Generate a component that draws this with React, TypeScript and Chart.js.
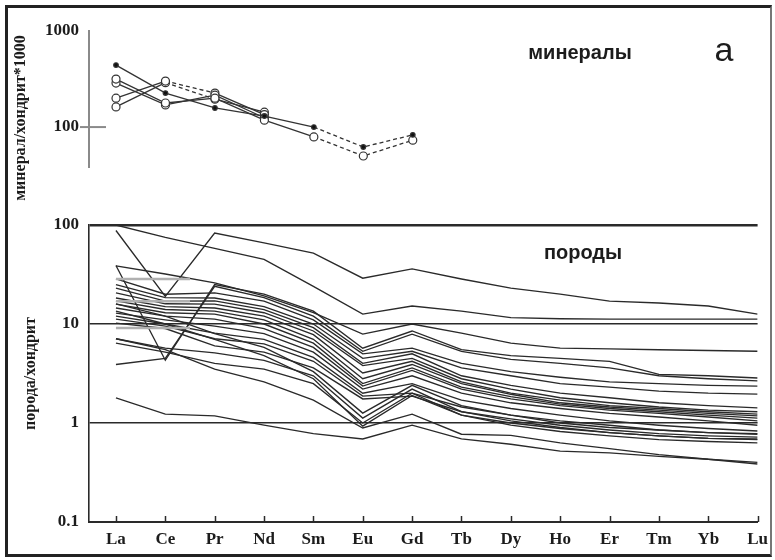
import React, { useEffect, useRef } from 'react';
import { Chart, registerables } from 'chart.js';
Chart.register(...registerables);

// ---- categories & ticks ----
const elements = ['La', 'Ce', 'Pr', 'Nd', 'Sm', 'Eu', 'Gd', 'Tb', 'Dy', 'Ho', 'Er', 'Tm', 'Yb', 'Lu'];
const rockTicks = [0.1, 1, 10, 100];
const rockTickLabels = ['0.1', '1', '10', '100'];
const mineralTicks = [100, 1000];
const mineralTickLabels = ['100', '1000'];

// ---- rocks (порода/хондрит), La..Lu ----
const r01 = [100, 75, 58, 45, 24, 12.6, 15.2, 13.5, 11.6, 11.3, 11.2, 11.2, 11.2, 11.2];
const r02 = [88, 19, 83, 66, 52, 29, 36, 28.5, 23, 20, 17, 16.3, 15.2, 12.6];
const r03 = [38.6, 32, 26, 19.2, 13, 7.9, 10, 8.1, 6.4, 5.7, 5.6, 5.5, 5.4, 5.3];
const r04 = [39, 4.3, 25, 20, 13.5, 5.7, 8.5, 5.5, 4.8, 4.5, 4.2, 3.1, 3.0, 2.85];
const r05 = [3.9, 4.5, 24, 18.5, 12, 5.3, 7.9, 5.3, 4.4, 4.0, 3.6, 3.0, 2.8, 2.66];
const r06 = [28.5, 20, 20.6, 17, 11, 5.0, 5.7, 4.0, 3.3, 2.9, 2.6, 2.5, 2.4, 2.36];
const r07 = [25, 18.5, 18.3, 15, 10, 4.5, 5.3, 3.6, 3.0, 2.5, 2.3, 2.1, 2.0, 1.96];
const r08 = [23, 17, 17.1, 14, 9.2, 4.0, 5.0, 3.0, 2.4, 2.0, 1.8, 1.6, 1.5, 1.42];
const r09 = [20.6, 16, 15.9, 13, 8.5, 3.8, 4.5, 2.8, 2.2, 1.8, 1.6, 1.45, 1.35, 1.3];
const r10 = [18.3, 15, 14.5, 12, 7.8, 3.2, 4.2, 2.6, 2.0, 1.7, 1.5, 1.4, 1.3, 1.23];
const r11 = [17.1, 14, 13.5, 11, 7.0, 2.8, 3.9, 2.5, 1.95, 1.6, 1.45, 1.35, 1.25, 1.18];
const r12 = [15.9, 13, 12.6, 10, 6.4, 2.5, 3.6, 2.3, 1.85, 1.55, 1.4, 1.3, 1.2, 1.12];
const r13 = [14.5, 12, 11.2, 9, 5.8, 2.36, 3.4, 2.2, 1.75, 1.5, 1.35, 1.25, 1.15, 1.05];
const r14 = [12.9, 11, 9.5, 8, 5.2, 2.2, 3.0, 2.0, 1.6, 1.4, 1.25, 1.15, 1.05, 0.95];
const r15 = [12.0, 10, 8.1, 7, 4.6, 2.0, 2.5, 1.7, 1.4, 1.2, 1.05, 0.95, 0.88, 0.83];
const r16 = [11.2, 9.5, 7.1, 6.3, 4.2, 1.87, 2.0, 1.45, 1.2, 1.05, 0.95, 0.85, 0.8, 0.77];
const r17 = [10.2, 9, 6.0, 5.2, 3.6, 1.75, 1.87, 1.3, 1.1, 0.95, 0.85, 0.78, 0.74, 0.72];
const r18 = [7.1, 5.7, 5.1, 4.3, 3.0, 1.12, 2.2, 1.3, 1.05, 0.9, 0.8, 0.74, 0.7, 0.69];
const r19 = [6.4, 5.2, 4.0, 3.5, 2.5, 1.0, 2.0, 1.2, 0.95, 0.82, 0.74, 0.68, 0.65, 0.63];
const r20 = [16, 12, 8, 5.8, 3.3, 1.26, 2.4, 1.5, 1.2, 1.0, 0.9, 0.85, 0.8, 0.78];
const r21 = [13.5, 10, 7.0, 4.8, 2.8, 0.93, 1.9, 1.2, 1.0, 0.88, 0.8, 0.74, 0.7, 0.68];
const r22 = [7.1, 5.5, 3.5, 2.6, 1.7, 0.89, 1.23, 0.77, 0.75, 0.63, 0.55, 0.48, 0.43, 0.4];
const r23 = [1.79, 1.23, 1.18, 0.95, 0.78, 0.69, 0.95, 0.69, 0.61, 0.52, 0.5, 0.46, 0.43, 0.385];
const rockSeries = [r01, r02, r03, r04, r05, r06, r07, r08, r09, r10, r11, r12, r13, r14, r15, r16, r17, r18, r19, r20, r21, r22, r23];

// faint grey traces in the La–Ce interval
const greyTraceLevels = [28.5, 17, 9.1];
const greyTraceStart = 0;
const greyTraceEnd = 1.5;

// ---- minerals (минерал/хондрит*1000), La..Gd ----
const m1 = [442, 226, 158, 130, 100, 62, 83];
const m2 = [316, 178, 200, 118, 79, 50, 73];
const m3 = [287, 170, 215, 125];
const m4 = [200, 301, 226, 135];
const m5 = [162, 290, 195, 143];
const mineralSeries = [m1, m2, m3, m4, m5];
const mineralFilled = [true, false, false, false, false];
const mineralDashed = [[4, 5], [4, 5], [], [1], [1]];

const INK = '#2a2a2a';
const serif = '"Liberation Serif", "Times New Roman", serif';
const sans = '"Liberation Sans", Arial, sans-serif';

type TextItem = { text: string; x: number; y: number; font: string; rot?: number };
const textPlugin = (id: string, items: TextItem[]) => ({
  id,
  afterDraw(chart: any) {
    const ctx = chart.ctx;
    items.forEach((it) => {
      ctx.save();
      ctx.translate(it.x, it.y);
      ctx.rotate(it.rot || 0);
      ctx.font = it.font;
      ctx.fillStyle = '#1c1c1c';
      ctx.textAlign = 'center';
      ctx.textBaseline = 'middle';
      ctx.fillText(it.text, 0, 0);
      ctx.restore();
    });
  },
});

const upTicksPlugin = {
  id: 'upTicks',
  afterDraw(chart: any) {
    const { ctx } = chart;
    const xs = chart.scales.x;
    const bottom = chart.chartArea.bottom;
    ctx.save();
    ctx.strokeStyle = INK;
    ctx.lineWidth = 1.5;
    elements.forEach((_, i) => {
      const x = Math.round(xs.getPixelForValue(i)) + 0.5;
      ctx.beginPath();
      ctx.moveTo(x, bottom);
      ctx.lineTo(x, bottom - 6);
      ctx.stroke();
    });
    ctx.restore();
  },
};

const crossTickPlugin = {
  id: 'crossTick',
  afterDraw(chart: any) {
    const { ctx } = chart;
    const ys = chart.scales.y;
    const left = chart.chartArea.left;
    const y = ys.getPixelForValue(100);
    ctx.save();
    ctx.strokeStyle = '#8a8a8a';
    ctx.lineWidth = 2;
    ctx.beginPath();
    ctx.moveTo(left - 9, y);
    ctx.lineTo(left + 17, y);
    ctx.stroke();
    ctx.restore();
  },
};

export default function App() {
  const mainRef = useRef<HTMLCanvasElement>(null);
  const insetRef = useRef<HTMLCanvasElement>(null);

  useEffect(() => {
    const tickFont = { family: serif, size: 17, weight: 'bold' as const };

    const greyDatasets = greyTraceLevels.map((v) => ({
      data: [{ x: greyTraceStart, y: v }, { x: greyTraceEnd, y: v }],
      borderColor: '#b0b0b0',
      borderWidth: 2.5,
      pointRadius: 0,
      fill: false,
    }));
    const rockDatasets = rockSeries.map((arr) => ({
      data: arr.map((v, i) => ({ x: i, y: v })),
      borderColor: INK,
      borderWidth: 1.35,
      pointRadius: 0,
      fill: false,
      tension: 0,
    }));

    const main = new Chart(mainRef.current!, {
      type: 'line',
      data: { datasets: [...greyDatasets, ...rockDatasets] as any },
      options: {
        animation: false,
        responsive: false,
        maintainAspectRatio: false,
        layout: { padding: { top: 225, right: 16, left: 0, bottom: 0 } },
        plugins: { legend: { display: false }, tooltip: { enabled: false } },
        scales: {
          x: {
            type: 'linear',
            min: -0.546,
            max: 13,
            afterBuildTicks: (s: any) => {
              s.ticks = elements.map((_, i) => ({ value: i }));
            },
            afterFit: (s: any) => {
              s.height = 38;
            },
            ticks: {
              callback: (v: any) => elements[v as number],
              font: tickFont,
              color: '#1c1c1c',
              padding: 7,
              autoSkip: false,
              maxRotation: 0,
            },
            grid: { display: true, drawOnChartArea: false, drawTicks: false },
            border: { display: true, color: INK, width: 2 },
          },
          y: {
            type: 'logarithmic',
            min: 0.1,
            max: 100,
            afterBuildTicks: (s: any) => {
              s.ticks = rockTicks.map((v) => ({ value: v }));
            },
            afterFit: (s: any) => {
              s.width = 89;
            },
            ticks: {
              callback: (v: any) => rockTickLabels[rockTicks.indexOf(v as number)],
              font: tickFont,
              color: '#1c1c1c',
              padding: 10,
            },
            grid: {
              drawTicks: false,
              color: (c: any) => (c.tick && c.tick.value === 0.1 ? 'rgba(0,0,0,0)' : INK),
              lineWidth: (c: any) => (c.tick && c.tick.value === 100 ? 2.4 : 1.4),
            },
            border: { display: true, color: INK, width: 1.6 },
            title: {
              display: true,
              text: 'порода/хондрит',
              font: { family: serif, size: 16, weight: 'bold' },
              color: '#1c1c1c',
              padding: { top: 21, bottom: 0 },
            },
          },
        },
      } as any,
      plugins: [
        upTicksPlugin,
        textPlugin('rockText', [{ text: 'породы', x: 583, y: 253, font: `bold 20px ${sans}` }]),
      ],
    });

    const mineralDatasets = mineralSeries.map((arr, k) => ({
      data: arr.map((v, i) => ({ x: i, y: v })),
      borderColor: '#333',
      borderWidth: 1.3,
      pointRadius: mineralFilled[k] ? 2.3 : 4,
      pointBorderWidth: 1.2,
      pointBorderColor: '#333',
      pointBackgroundColor: mineralFilled[k] ? '#111' : '#fff',
      fill: false,
      tension: 0,
      segment: {
        borderDash: (c: any) => (mineralDashed[k].includes(c.p0DataIndex) ? [4, 3] : undefined),
      },
    }));

    const inset = new Chart(insetRef.current!, {
      type: 'line',
      data: { datasets: mineralDatasets as any },
      options: {
        animation: false,
        responsive: false,
        maintainAspectRatio: false,
        layout: { padding: { top: 31, right: 16, left: 0, bottom: 58 } },
        plugins: { legend: { display: false }, tooltip: { enabled: false } },
        scales: {
          x: { type: 'linear', min: -0.546, max: 13, display: false },
          y: {
            type: 'logarithmic',
            min: 38.4,
            max: 1000,
            afterBuildTicks: (s: any) => {
              s.ticks = mineralTicks.map((v) => ({ value: v }));
            },
            afterFit: (s: any) => {
              s.width = 89;
            },
            ticks: {
              callback: (v: any) => mineralTickLabels[mineralTicks.indexOf(v as number)],
              font: tickFont,
              color: '#1c1c1c',
              padding: 10,
            },
            grid: { drawOnChartArea: false, drawTicks: false },
            border: { display: true, color: '#8a8a8a', width: 2 },
          },
        },
      } as any,
      plugins: [
        crossTickPlugin,
        textPlugin('mineralText', [
          { text: 'минерал/хондрит*1000', x: 21, y: 118, font: `bold 16px ${serif}`, rot: -Math.PI / 2 },
          { text: 'минералы', x: 580, y: 53, font: `bold 20px ${sans}` },
          { text: 'а', x: 724, y: 52, font: `34px ${sans}` },
        ]),
      ],
    });

    return () => {
      main.destroy();
      inset.destroy();
    };
  }, []);

  return (
    <div style={{ position: 'fixed', left: 0, top: 0, width: 775, height: 560, background: '#fff' }}>
      <div
        style={{
          position: 'absolute',
          left: 5,
          top: 5,
          width: 767,
          height: 552,
          boxSizing: 'border-box',
          border: '3px solid #222',
          borderRight: '2px solid #777',
        }}
      />
      <canvas ref={mainRef} width={775} height={560} style={{ position: 'absolute', left: 0, top: 0, width: 775, height: 560 }} />
      <canvas ref={insetRef} width={775} height={225} style={{ position: 'absolute', left: 0, top: 0, width: 775, height: 225 }} />
    </div>
  );
}
